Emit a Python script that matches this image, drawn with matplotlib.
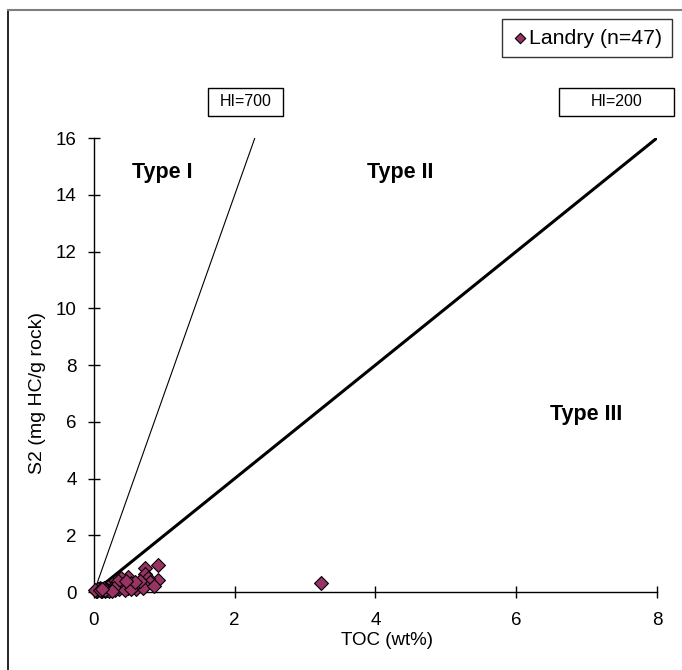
import matplotlib
matplotlib.use("Agg")
import matplotlib.pyplot as plt
from matplotlib.patches import Rectangle
from matplotlib.lines import Line2D

plt.rcParams['font.family'] = ['Liberation Sans', 'DejaVu Sans']

# Landry samples: TOC (wt%) and S2 (mg HC/g rock)
toc = [0.91, 0.73, 0.73, 0.91, 0.77, 0.80, 0.48, 0.39, 0.33, 0.53,
       0.62, 0.69, 0.43, 0.26, 0.20, 0.14, 0.08, 0.48, 0.60, 0.70,
       0.36, 0.30, 0.24, 0.18, 0.12, 0.05, 0.03, 0.10, 0.15, 0.22,
       0.06, 0.40, 0.55, 0.65, 0.34, 0.28, 0.16, 0.44, 0.52, 0.85,
       0.02, 0.09, 0.26, 0.58, 0.45, 0.12, 3.22]
s2 = [0.95, 0.85, 0.63, 0.42, 0.48, 0.34, 0.54, 0.48, 0.34, 0.31,
      0.25, 0.27, 0.25, 0.27, 0.19, 0.13, 0.13, 0.13, 0.12, 0.15,
      0.12, 0.08, 0.10, 0.06, 0.04, 0.05, 0.02, 0.02, 0.03, 0.03,
      0.10, 0.20, 0.18, 0.38, 0.40, 0.15, 0.08, 0.07, 0.10, 0.22,
      0.06, 0.07, 0.05, 0.35, 0.40, 0.11, 0.31]
series_label = "Landry (n=47)"

# Hydrogen index boundary lines (S2 = HI/100 * TOC)
hi_values = [700, 200]
hi_widths = [0.8, 2.2]
x_ticks = [0, 2, 4, 6, 8]
y_ticks = [0, 2, 4, 6, 8, 10, 12, 14, 16]
x_max, y_max = 8, 16

fig = plt.figure(figsize=(6.82, 6.70), dpi=100)
ax = fig.add_axes([0.1378, 0.1164, 0.8255, 0.6776])

for hi, lw in zip(hi_values, hi_widths):
    slope = hi / 100.0
    x_end = min(x_max, y_max / slope)
    ax.plot([0, x_end], [0, slope * x_end], color='black', lw=lw,
            solid_capstyle='butt', zorder=2)

ax.scatter(toc, s2, marker='D', s=50, facecolor='#993366',
           edgecolor='black', linewidths=0.8, zorder=3, label=series_label,
           clip_on=False)

ax.set_xlim(0, x_max)
ax.set_ylim(0, y_max)
ax.set_xticks(x_ticks)
ax.set_yticks(y_ticks)
ax.tick_params(direction='inout', length=9, width=1, labelsize=13.5)
ax.tick_params(axis='x', pad=10)
ax.tick_params(axis='y', pad=8)
for side in ('top', 'right'):
    ax.spines[side].set_visible(False)
for side in ('left', 'bottom'):
    ax.spines[side].set_linewidth(1)

ax.set_xlabel("TOC (wt%)", fontsize=13.5, va='center')
ax.set_ylabel("S2 (mg HC/g rock)", fontsize=14, va='center')
ax.xaxis.set_label_coords(0.52, -0.106)
ax.yaxis.set_label_coords(-0.1, 0.438)

# Kerogen type fields
for txt, x, y in [("Type I", 0.97, 14.8), ("Type II", 4.35, 14.8),
                  ("Type III", 7.0, 6.25)]:
    ax.text(x, y, txt, fontsize=15.5, fontweight='bold', ha='center',
            va='center')

# Boxed HI captions above the plot area
for txt, x0, x1 in [("HI=700", 208, 283), ("HI=200", 559, 674)]:
    fx0, fx1 = x0 / 682, x1 / 682
    fy0, fy1 = 1 - 116 / 670, 1 - 88 / 670
    fig.patches.append(Rectangle((fx0, fy0), fx1 - fx0, fy1 - fy0,
                                 transform=fig.transFigure, fill=False,
                                 edgecolor='black', lw=1))
    fig.text((fx0 + fx1) / 2, (fy0 + fy1) / 2, txt, fontsize=11.5,
             ha='center', va='center')

leg = ax.legend(loc='upper right', bbox_to_anchor=(672 / 682, 1 - 19 / 670),
                bbox_transform=fig.transFigure, fontsize=15.3,
                frameon=True, fancybox=False, handletextpad=0.05,
                handlelength=0.8, borderpad=0.45, borderaxespad=0,
                markerscale=0.75)
leg.get_frame().set_edgecolor('black')
leg.get_frame().set_linewidth(1)

# Outer chart-area border
fig.lines.append(Line2D([8 / 682, 8 / 682], [0, 1 - 10 / 670],
                        transform=fig.transFigure, color='black', lw=1.2))
fig.lines.append(Line2D([8 / 682, 1], [1 - 10 / 670, 1 - 10 / 670],
                        transform=fig.transFigure, color='#7f7f7f', lw=1.5))

fig.savefig("out.png", dpi=100)
